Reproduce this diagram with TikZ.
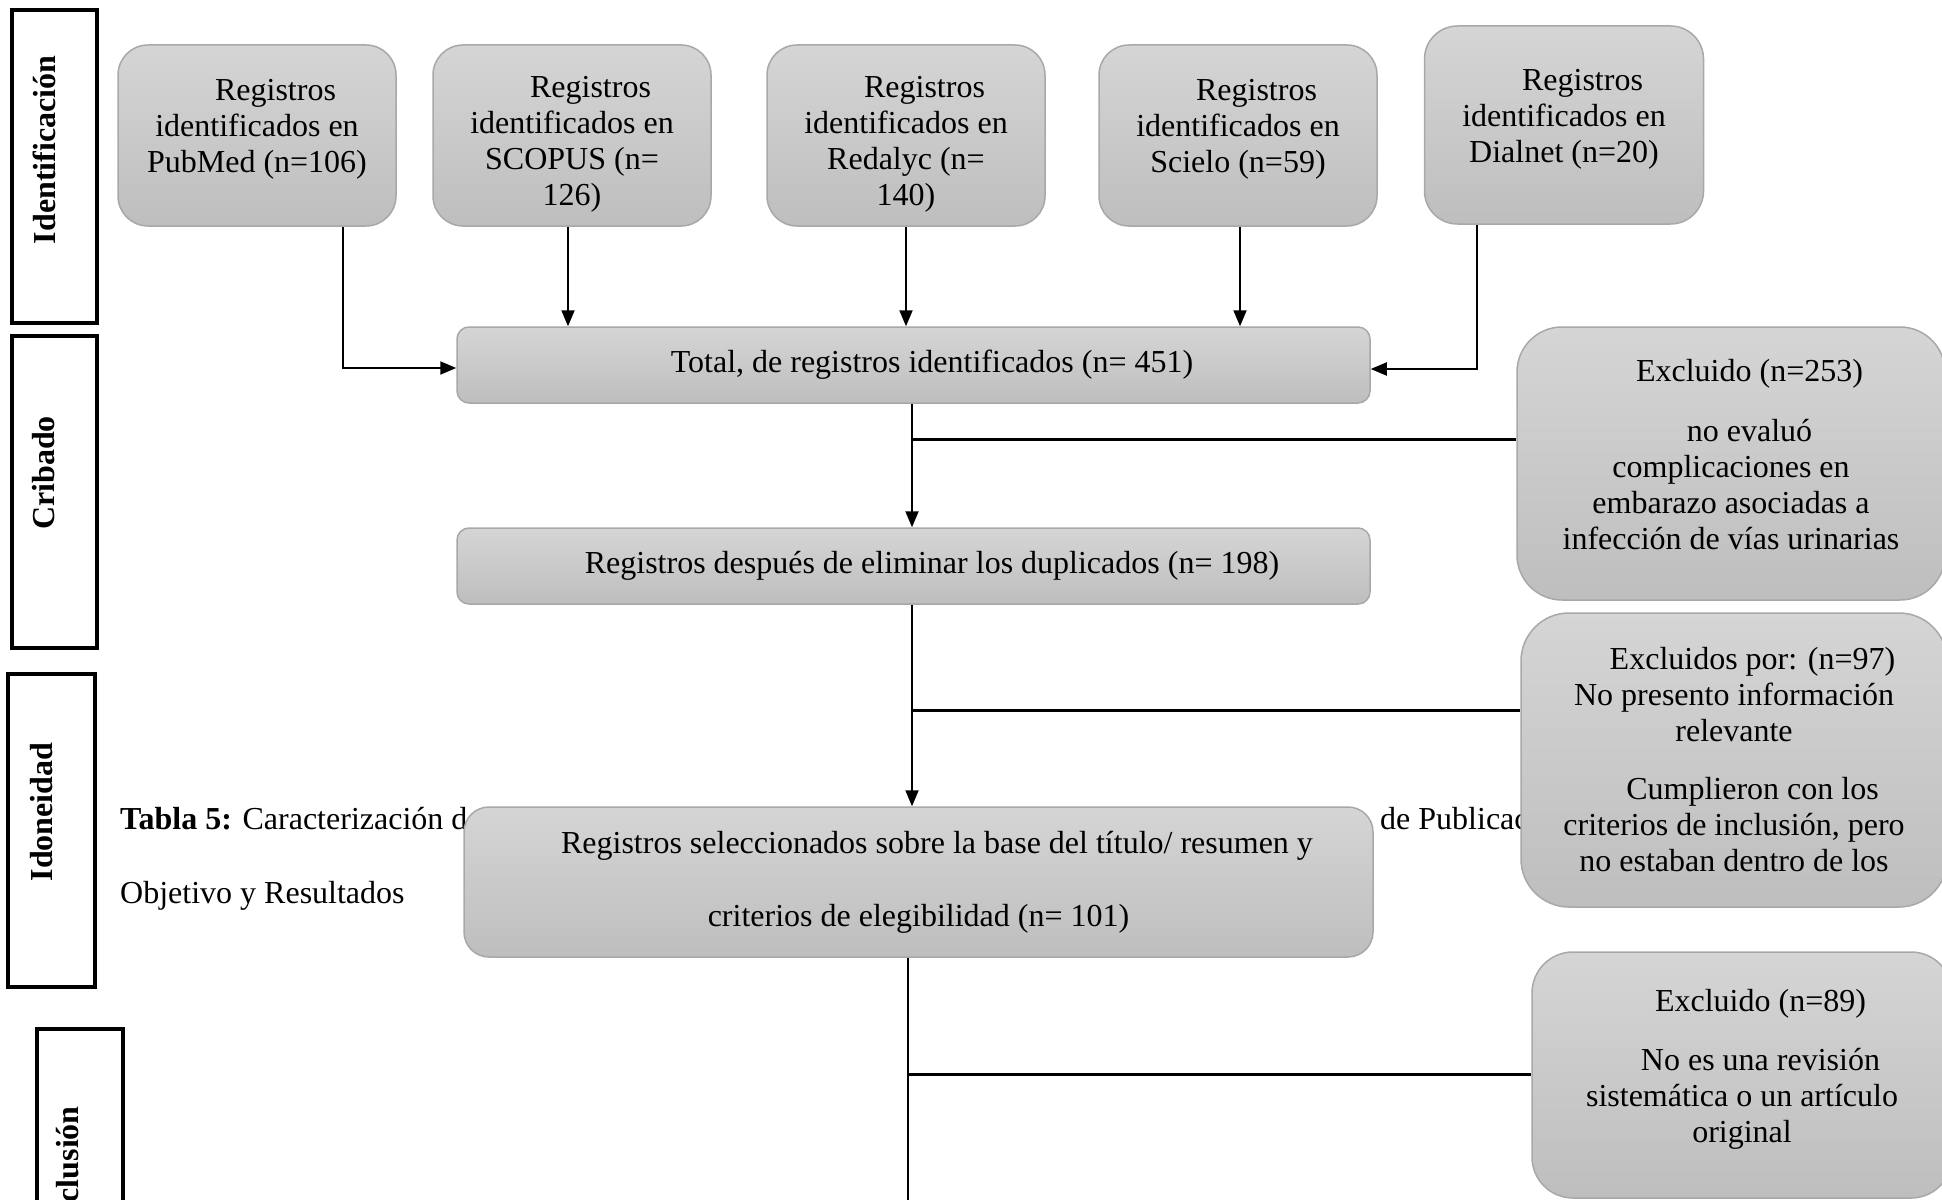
\documentclass[tikz,border=0pt]{standalone}
\usepackage{fontspec}
\setmainfont{Liberation Serif}
\usetikzlibrary{arrows.meta}
\definecolor{boxtop}{RGB}{213,213,213}
\definecolor{boxbot}{RGB}{190,190,190}
\definecolor{boxline}{RGB}{168,168,168}
\newcommand{\leadsp}{\hspace*{37pt}}
\newcommand{\lowpad}[1]{\rule[-#1]{0pt}{#1}}
\newcommand{\toppad}[1]{\rule{0pt}{#1}}
\tikzset{
  txt/.style={inner sep=0pt, font=\fontsize{32}{36}\selectfont},
  flowbox/.style={txt, draw=boxline, line width=1.5pt, top color=boxtop, bottom color=boxbot, align=center},
  phasebox/.style={draw=black, line width=3.5pt, inner sep=0pt},
  phaselabel/.style={txt, rotate=90, font=\fontsize{32}{36}\selectfont\bfseries},
  link/.style={line width=2pt},
  arr/.style={link, -{Triangle[length=16pt,width=13pt]}},
  cut/.style={line width=3pt},
}
\begin{document}
\begin{tikzpicture}[x=1pt,y=1pt,yscale=-1]
\useasboundingbox (0,0) rectangle (1942,1199);
\clip (0,0) rectangle (1942,1199);

% Text Node (caption behind the boxes)
\node[txt, anchor=base west] (tabla) at (120,829) {\textbf{Tabla 5:} Caracterización de};
\node[txt, anchor=base west] (tabla-pub) at (1380,829) {de Publicac};
\node[txt, anchor=base west] (tabla-obj) at (120,903) {Objetivo y Resultados};

%Shape: phase boxes
\node[phasebox, minimum width=85, minimum height=313] (ident) at (54.5,166.5) {};
\node[phasebox, minimum width=85, minimum height=312] (cribado) at (54.5,492) {};
\node[phasebox, minimum width=87, minimum height=313] (idon) at (51.5,830.5) {};
\node[phasebox, minimum width=86, minimum height=313] (incl) at (80,1185.5) {};
\node[phaselabel] (ident-l) at (44,150) {Identificación};
\node[phaselabel] (cribado-l) at (44,473) {Cribado};
\node[phaselabel] (idon-l) at (42,812) {Idoneidad};
\node[phaselabel, anchor=east] (incl-l) at (67.5,1106) {Inclusión};

%Shape: source boxes
\node[flowbox, minimum width=278, minimum height=181, rounded corners=30pt] (pubmed) at (257,135.5)
  {\leadsp Registros\\identificados en\\PubMed (n=106)\lowpad{19pt}};
\node[flowbox, minimum width=278, minimum height=181, rounded corners=30pt] (scopus) at (572,135.5)
  {\toppad{38pt}\leadsp Registros\\identificados en\\SCOPUS (n=\\126)};
\node[flowbox, minimum width=278, minimum height=181, rounded corners=30pt] (redalyc) at (906,135.5)
  {\toppad{38pt}\leadsp Registros\\identificados en\\Redalyc (n=\\140)};
\node[flowbox, minimum width=278, minimum height=181, rounded corners=30pt] (scielo) at (1238,135.5)
  {\leadsp Registros\\identificados en\\Scielo (n=59)\lowpad{19pt}};
\node[flowbox, minimum width=279, minimum height=198, rounded corners=33pt] (dialnet) at (1564,125)
  {\leadsp Registros\\identificados en\\Dialnet (n=20)\lowpad{19pt}};

%Shape: main flow
\node[flowbox, minimum width=913, minimum height=76, rounded corners=12pt] (total) at (913.5,365)
  {\leadsp Total, de registros identificados (n= 451)};
\node[flowbox, minimum width=913, minimum height=76, rounded corners=12pt] (dupl) at (913.5,566)
  {\leadsp Registros después de eliminar los duplicados (n= 198)};
\node[flowbox, minimum width=909, minimum height=150, rounded corners=25pt] (selec) at (918.5,882)
  {\leadsp Registros seleccionados sobre la base del título/ resumen y\\[37pt]criterios de elegibilidad (n= 101)};

%Shape: exclusion boxes
\node[flowbox, minimum width=428, minimum height=273, rounded corners=45pt] (exc253) at (1731,463.5)
  {\leadsp Excluido (n=253)\\[24pt]\leadsp no evaluó\\complicaciones en\\embarazo asociadas a\\infección de vías urinarias\lowpad{18pt}};
\node[flowbox, minimum width=426, minimum height=294, rounded corners=48pt] (exc97) at (1734,760)
  {\leadsp Excluidos por: (n=97)\\No presento información\\relevante\\[22pt]\leadsp Cumplieron con los\\criterios de inclusión, pero\\no estaban dentro de los};
\node[flowbox, minimum width=420, minimum height=246, rounded corners=41pt] (exc89) at (1742,1075)
  {\leadsp Excluido (n=89)\\[23pt]\leadsp No es una revisión\\sistemática o un artículo\\original\lowpad{19pt}};

%Straight Lines
\coordinate (pm-turn) at (343,368);
\draw[arr] (pubmed.south -| pm-turn) -- (pm-turn) -- (total.west |- pm-turn);
\coordinate (sc-line) at (568,0);
\draw[arr] (scopus.south -| sc-line) -- (total.north -| sc-line);
\draw[arr] (redalyc.south) -- (redalyc.south |- total.north);
\coordinate (si-line) at (1240,0);
\draw[arr] (scielo.south -| si-line) -- (total.north -| si-line);
\coordinate (dn-turn) at (1477,369);
\draw[arr] (dialnet.south -| dn-turn) -- (dn-turn) -- (total.east |- dn-turn);

\coordinate (mid-line) at (912,0);
\draw[arr] (total.south -| mid-line) -- (dupl.north -| mid-line);
\coordinate (cut1) at (912,439);
\draw[cut] (cut1) -- (cut1 -| exc253.west);
\draw[arr] (dupl.south -| mid-line) -- (selec.north -| mid-line);
\coordinate (cut2) at (912,710);
\draw[cut] (cut2) -- (cut2 -| exc97.west);
\coordinate (low-end) at (908,1210);
\draw[link] (selec.south -| low-end) -- (low-end);
\coordinate (cut3) at (908,1074);
\draw[cut] (cut3) -- (cut3 -| exc89.west);

\end{tikzpicture}
\end{document}
